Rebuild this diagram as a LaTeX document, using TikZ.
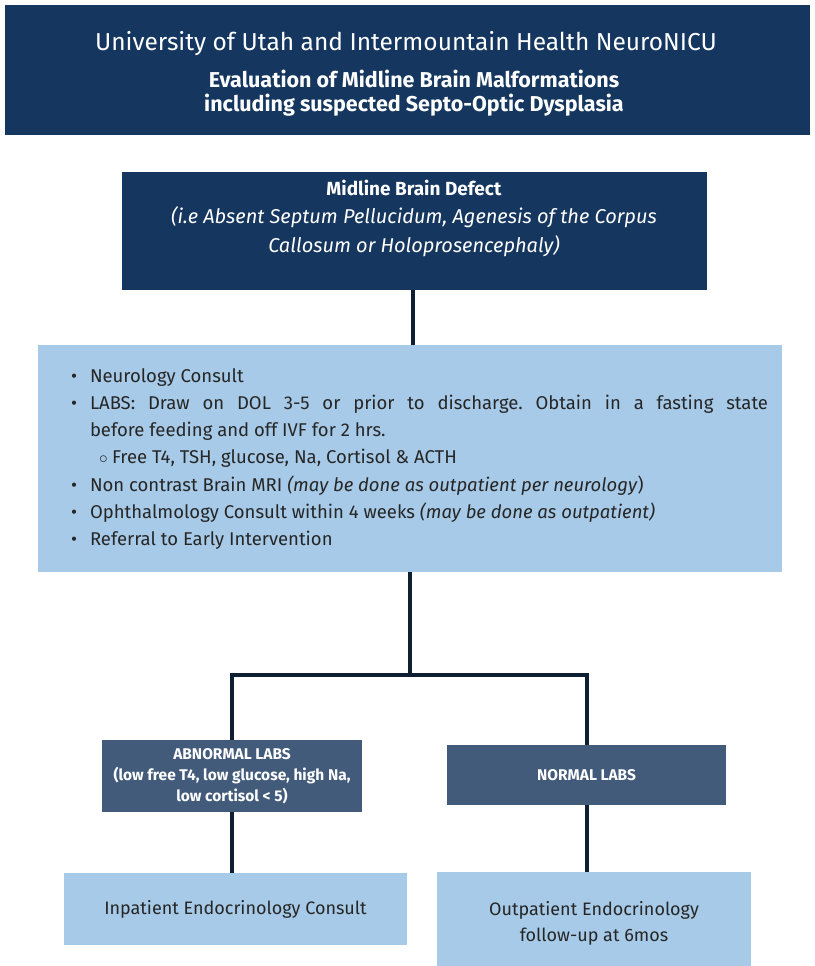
\documentclass[tikz,border=0pt]{standalone}
\usepackage{fontspec}
\setmainfont{Fira Sans}
\usetikzlibrary{positioning}
\definecolor{navy}{HTML}{14365F}
\definecolor{slate}{HTML}{425B7A}
\definecolor{paleblue}{HTML}{A6CAE7}
\definecolor{linkcol}{HTML}{0E1E33}
\newcommand{\bul}{\hangindent=18pt\hangafter=1\noindent\makebox[18pt][l]{\hspace{-1pt}\textbullet}}
\newcommand{\subbul}{\hangindent=40pt\hangafter=1\noindent\hspace*{27pt}\makebox[13pt][l]{$\circ$}}
\frenchspacing
\begin{document}
\begin{tikzpicture}[x=1pt, y=-1pt,
    darkbox/.style = {fill=navy, draw=none, text=white, inner sep=0pt},
    slatebox/.style = {fill=slate, draw=none, text=white, inner sep=0pt, align=center,
      font=\fontsize{15.5}{21}\selectfont\bfseries},
    palebox/.style = {fill=paleblue, draw=none, text=black!85, inner sep=0pt, align=center,
      font=\fontsize{18}{26}\selectfont},
    link/.style = {draw=linkcol, line width=4pt}]
  \useasboundingbox (0,0) rectangle (814,966);
  % header
  \node[darkbox, minimum width=805pt, minimum height=130pt] (head) at (407.5,70) {};
  \node[text=white, align=center, font=\fontsize{24.5}{28}\selectfont] (headtitle) at (406,44)
    {University of Utah and Intermountain Health NeuroNICU};
  \node[text=white, align=center, font=\fontsize{21.5}{24}\selectfont\bfseries] (headsub) at (414,93)
    {Evaluation of Midline Brain Malformations\\ including suspected Septo-Optic Dysplasia};
  % midline defect
  \node[darkbox, minimum width=585pt, minimum height=118pt] (defect) at (414.5,231) {};
  \node[text=white, align=center, font=\fontsize{20}{28.5}\selectfont] (defecttxt) at (414,218)
    {\textbf{\fontsize{19}{28.5}\selectfont Midline Brain Defect}\\
     \textit{(i.e Absent Septum Pellucidum, Agenesis of the Corpus}\\
     \textit{Callosum or Holoprosencephaly)}};
  % workup
  \node[fill=paleblue, minimum width=744pt, minimum height=227pt, inner sep=0pt] (steps) at (410,458.5) {};
  \node[text=black!85, text width=696pt, align=justify, inner sep=0pt,
        font=\fontsize{18.5}{27.2}\selectfont] (stepstxt) at (420,459) {%
    \bul Neurology Consult\par
    \bul LABS: Draw on DOL 3-5 or prior to discharge. Obtain in a fasting state\linebreak
      before feeding and off IVF for 2 hrs.\par
    \subbul Free T4, TSH, glucose, Na, Cortisol \& ACTH\par
    \bul Non contrast Brain MRI \textit{(may be done as outpatient per neurology})\par
    \bul Ophthalmology Consult within 4 weeks \textit{(may be done as outpatient)}\par
    \bul Referral to Early Intervention\par};
  % lab results
  \node[slatebox, minimum width=260pt, minimum height=72pt] (abnormal) at (232,776)
    {ABNORMAL LABS\\ (low free T4, low glucose, high Na,\\ low cortisol < 5)};
  \node[slatebox, minimum width=279pt, minimum height=60pt] (normal) at (586.5,775) {NORMAL LABS};
  % follow-up
  \node[palebox, minimum width=343pt, minimum height=72pt] (inpat) at (235.5,909)
    {Inpatient Endocrinology Consult};
  \node[palebox, minimum width=314pt, minimum height=102pt] (outpat) at (594,923)
    {Outpatient Endocrinology\\ follow-up at 6mos};
  % connectors
  \coordinate (fork) at (410,675);
  \draw[link] (defect.south -| 413,0) -- (steps.north -| 413,0);
  \draw[link] (steps.south) -- (fork);
  \draw[link] (abnormal.north) |- (fork) -| (normal.north);
  \draw[link] (abnormal.south) -- (abnormal.south |- inpat.north);
  \draw[link] (normal.south) -- (normal.south |- outpat.north);
\end{tikzpicture}
\end{document}
